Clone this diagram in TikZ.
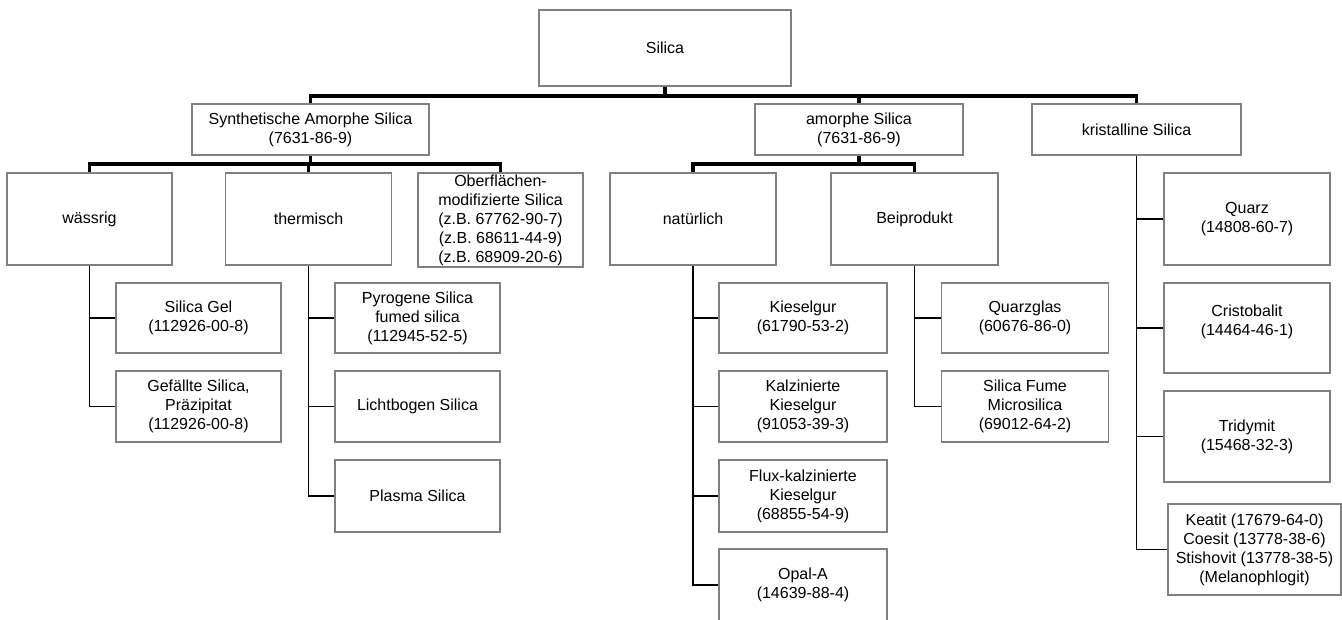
\documentclass[tikz,border=0pt]{standalone}
\usepackage{fontspec}
\setmainfont{Liberation Sans}
\begin{document}
\begin{tikzpicture}[x=1pt,y=-1pt,
  box/.style={draw=black!50, line width=1.8pt, fill=white, align=center, inner sep=0pt,
              font=\fontsize{16}{19}\selectfont},
  conbold/.style={draw=black, line width=3.6pt, line join=miter},
  conthin/.style={draw=black, line width=1.9pt, line join=miter},
  connat/.style={draw=black, line width=2.6pt, line join=miter}]
\clip (0,0) rectangle (1342,619);
\fill[white] (0,0) rectangle (1342,619);
% level 1
\node[box, minimum width=252pt, minimum height=76pt] (silica) at (665,48) {Silica};
% level 2
\node[box, minimum width=237pt, minimum height=51pt] (synth) at (310.5,129.5) {Synthetische Amorphe Silica\\(7631-86-9)};
\node[box, minimum width=208pt, minimum height=51pt] (amorph) at (859,129.5) {amorphe Silica\\(7631-86-9)};
\node[box, minimum width=209pt, minimum height=51pt] (krist) at (1136.5,129.5) {kristalline Silica};
% level 3
\node[box, minimum width=165pt, minimum height=92pt] (waessrig) at (89.5,219) {wässrig};
\node[box, minimum width=166pt, minimum height=92pt] (thermisch) at (308.5,219) {thermisch};
\node[box, minimum width=165pt, minimum height=94pt] (ober) at (500.5,220) {Oberflächen-\\modifizierte Silica\\(z.B. 67762-90-7)\\(z.B. 68611-44-9)\\(z.B. 68909-20-6)};
\node[box, minimum width=166pt, minimum height=92pt] (natuer) at (693,219) {natürlich};
\node[box, minimum width=167pt, minimum height=92pt] (beiprod) at (914.5,219) {Beiprodukt};
\node[box, minimum width=166pt, minimum height=92pt] (quarz) at (1247,219) {Quarz\\(14808-60-7)};
% level 4
\node[box, minimum width=165pt, minimum height=70pt] (gel) at (198.5,318) {Silica Gel\\(112926-00-8)};
\node[box, minimum width=165pt, minimum height=71pt] (gefaellt) at (198.5,406.5) {Gefällte Silica,\\Präzipitat\\(112926-00-8)};
\node[box, minimum width=165pt, minimum height=70pt] (pyro) at (417.5,318) {Pyrogene Silica\\fumed silica\\(112945-52-5)};
\node[box, minimum width=165pt, minimum height=71pt] (licht) at (417.5,406.5) {Lichtbogen Silica};
\node[box, minimum width=165pt, minimum height=72pt] (plasma) at (417.5,496) {Plasma Silica};
\node[box, minimum width=168pt, minimum height=70pt] (kiesel) at (803,318) {Kieselgur\\(61790-53-2)};
\node[box, minimum width=168pt, minimum height=71pt] (kalz) at (803,406.5) {Kalzinierte\\Kieselgur\\(91053-39-3)};
\node[box, minimum width=168pt, minimum height=72pt] (flux) at (803,496) {Flux-kalzinierte\\Kieselgur\\(68855-54-9)};
\node[box, minimum width=168pt, minimum height=72pt] (opal) at (803,585) {Opal-A\\(14639-88-4)};
\node[box, minimum width=167pt, minimum height=70pt] (quarzglas) at (1025,318) {Quarzglas\\(60676-86-0)};
\node[box, minimum width=167pt, minimum height=71pt] (fume) at (1025,406.5) {Silica Fume\\Microsilica\\(69012-64-2)};
\node[box, minimum width=166pt, minimum height=90pt] (cristo) at (1247,328) {Cristobalit\\(14464-46-1)\\[-3pt]};
\node[box, minimum width=166pt, minimum height=91pt] (tridy) at (1247,436.5) {Tridymit\\(15468-32-3)};
\node[box, minimum width=173pt, minimum height=91pt] (keatit) at (1254.5,549.5) {Keatit (17679-64-0)\\Coesit (13778-38-6)\\Stishovit (13778-38-5)\\(Melanophlogit)};
% helper coordinates for bus lines
\coordinate (b1) at (0,96);
\coordinate (b2) at (0,164);
% bold connectors
\draw[conbold] (silica.south) -- (silica.south |- b1);
\draw[conbold] (synth.north) -- (synth.north |- b1) -- (krist.north |- b1) -- (krist.north);
\draw[conbold] (amorph.north) -- (amorph.north |- b1);
\draw[conbold] (synth.south) -- (synth.south |- b2);
\draw[conbold] (waessrig.north) -- (waessrig.north |- b2) -- (ober.north |- b2) -- (ober.north);
\draw[conbold] (thermisch.north) -- (thermisch.north |- b2);
\draw[conbold] (amorph.south) -- (amorph.south |- b2);
\draw[conbold] (natuer.north) -- (natuer.north |- b2) -- (beiprod.north |- b2) -- (beiprod.north);
% thin connectors
\draw[conthin] (waessrig.south) -- (waessrig.south |- gefaellt.west) -- (gefaellt.west);
\draw[conthin] (waessrig.south |- gel.west) -- (gel.west);
\draw[conthin] (thermisch.south) -- (thermisch.south |- plasma.west) -- (plasma.west);
\draw[conthin] (thermisch.south |- pyro.west) -- (pyro.west);
\draw[conthin] (thermisch.south |- licht.west) -- (licht.west);
\draw[connat] (natuer.south) -- (natuer.south |- opal.west) -- (opal.west);
\draw[conthin] (natuer.south |- kiesel.west) -- (kiesel.west);
\draw[conthin] (natuer.south |- kalz.west) -- (kalz.west);
\draw[conthin] (natuer.south |- flux.west) -- (flux.west);
\draw[conthin] (beiprod.south) -- (beiprod.south |- fume.west) -- (fume.west);
\draw[conthin] (beiprod.south |- quarzglas.west) -- (quarzglas.west);
\draw[conthin] (krist.south) -- (krist.south |- keatit.west) -- (keatit.west);
\draw[conthin] (krist.south |- quarz.west) -- (quarz.west);
\draw[conthin] (krist.south |- cristo.west) -- (cristo.west);
\draw[conthin] (krist.south |- tridy.west) -- (tridy.west);
\end{tikzpicture}
\end{document}
